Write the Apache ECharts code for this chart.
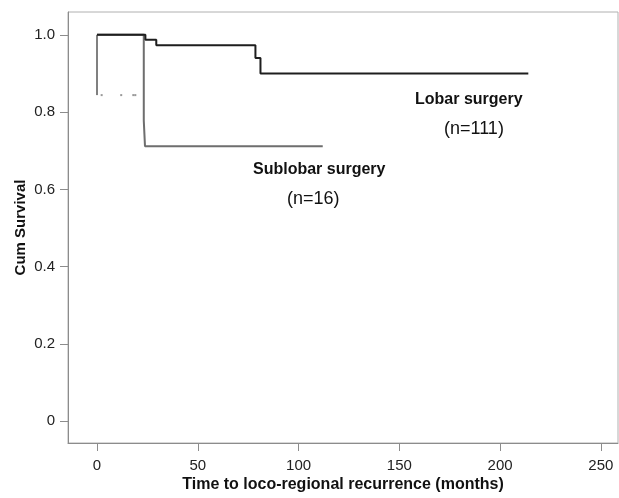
<!DOCTYPE html>
<html><head><meta charset="utf-8">
<script src="https://cdn.jsdelivr.net/npm/echarts@6/dist/echarts.min.js"></script>
<style>html,body{margin:0;padding:0;background:#fff}#c{width:619px;height:498px}</style>
</head><body><div id="c"></div>
<script>
// Kaplan-Meier step data [months, cum survival]
const lobarTimes = [0, 24, 29.4, 78.6, 81.1, 214];
const lobarSurv  = [1.0, 0.987, 0.973, 0.94, 0.90, 0.90];
const sublobarTimes = [0, 23.2, 23.8, 112];
const sublobarSurv  = [1.0, 0.778, 0.712, 0.712];
// artifact segment at time 0 and small censor dots
const artifactTimes = [0, 0];
const artifactSurv  = [1.0, 0.844];
const dotTimes = [2.3, 12, 18, 19];
const dotSurv  = [0.844, 0.844, 0.844, 0.844];
const xTicks = [0, 50, 100, 150, 200, 250];
const yTicks = [0, 0.2, 0.4, 0.6, 0.8, 1.0];
const yTickLabels = ['0', '0.2', '0.4', '0.6', '0.8', '1.0'];

const zip = (a, b) => a.map((v, i) => [v, b[i]]);
const font = "Arial, 'Liberation Sans', sans-serif";
const axisCol = '#8c8c8c';

const chart = echarts.init(document.getElementById('c'), null, {renderer: 'canvas'});
chart.setOption({
  animation: false,
  backgroundColor: '#fff',
  grid: {left: 68, right: 1, top: 12, bottom: 51, show: true, borderColor: '#b0b0b0', borderWidth: 1, containLabel: false},
  xAxis: {
    type: 'value', min: -14.4, max: 258.5,
    splitLine: {show: false},
    axisLine: {show: true, onZero: false, lineStyle: {color: axisCol, width: 1}},
    axisTick: {show: true, length: 8, customValues: xTicks, lineStyle: {color: axisCol}},
    axisLabel: {customValues: xTicks, margin: 15, fontSize: 15, color: '#222', fontFamily: font},
    name: 'Time to loco-regional recurrence (months)', nameLocation: 'middle', nameGap: 34, nameMoveOverlap: false,
    nameTextStyle: {fontSize: 16, fontWeight: 'bold', color: '#111', fontFamily: font}
  },
  yAxis: {
    type: 'value', min: -0.056, max: 1.059,
    splitLine: {show: false},
    axisLine: {show: true, onZero: false, lineStyle: {color: axisCol, width: 1}},
    axisTick: {show: true, length: 8, customValues: yTicks, lineStyle: {color: axisCol}},
    axisLabel: {customValues: yTicks, margin: 13, fontSize: 15, color: '#222', fontFamily: font,
      formatter: v => { const i = yTicks.findIndex(t => Math.abs(t - v) < 1e-6); return i >= 0 ? yTickLabels[i] : ''; }},
    name: 'Cum Survival', nameLocation: 'middle', nameGap: 40, nameMoveOverlap: false,
    nameTextStyle: {fontSize: 15, fontWeight: 'bold', color: '#111', fontFamily: font}
  },
  series: [
    {type: 'line', data: zip(artifactTimes, artifactSurv), symbol: 'none', lineStyle: {color: '#808080', width: 2}, z: 1},
    {type: 'scatter', data: zip(dotTimes, dotSurv), symbol: 'rect', symbolSize: 2, itemStyle: {color: '#808080'}, z: 1},
    {type: 'line', step: 'end', data: zip(sublobarTimes, sublobarSurv), symbol: 'none', lineStyle: {color: '#6e6e6e', width: 2}, z: 2},
    {type: 'line', step: 'end', data: zip(lobarTimes, lobarSurv), symbol: 'none', lineStyle: {color: '#1e1e1e', width: 2}, z: 3}
  ],
  graphic: [
    {type: 'text', left: 415, top: 92, style: {text: 'Lobar surgery', font: 'bold 16px ' + font, fill: '#111'}},
    {type: 'text', left: 444, top: 120, style: {text: '(n=111)', font: '18px ' + font, fill: '#111'}},
    {type: 'text', left: 253, top: 162, style: {text: 'Sublobar surgery', font: 'bold 16px ' + font, fill: '#111'}},
    {type: 'text', left: 287, top: 190, style: {text: '(n=16)', font: '18px ' + font, fill: '#111'}}
  ]
});
</script></body></html>
